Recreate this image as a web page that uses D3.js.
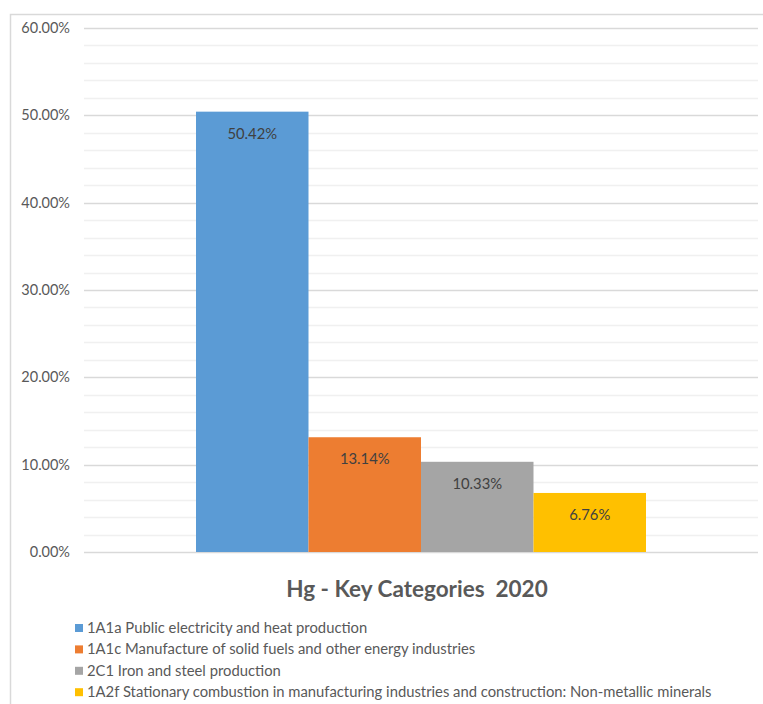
<!DOCTYPE html>
<html><head><meta charset="utf-8">
<script src="https://cdn.jsdelivr.net/npm/d3@7"></script>
<style>body{margin:0;background:#fff}svg{display:block}text{font-family:Lato,"Open Sans",sans-serif;white-space:pre}</style>
</head><body><svg id="c" width="763" height="704"></svg>
<script>
const categories = [
  "1A1a Public electricity and heat production",
  "1A1c Manufacture of solid fuels and other energy industries",
  "2C1 Iron and steel production",
  "1A2f Stationary combustion in manufacturing industries and construction: Non-metallic minerals"
];
const values = [50.42, 13.14, 10.33, 6.76];
const colors = ["#5B9BD5", "#ED7D31", "#A5A5A5", "#FFC000"];
const majorTicks = [0, 10, 20, 30, 40, 50, 60];
const minorTicks = d3.range(0, 61, 2);
const title = "Hg - Key Categories  2020";

const svg = d3.select("#c");
svg.append("path").attr("d", "M10.5,704 V14.5 H763").attr("fill", "none").attr("stroke", "#d9d9d9").attr("stroke-width", 1.5);

const x0 = 84, x1 = 758, yTop = 28, yBot = 552;
const y = d3.scaleLinear().domain([0, 60]).range([yBot, yTop]);

svg.append("g").selectAll("line").data(minorTicks.filter(d => d % 10 !== 0)).join("line")
  .attr("x1", x0).attr("x2", x1).attr("y1", d => Math.round(y(d)) + 0.5).attr("y2", d => Math.round(y(d)) + 0.5)
  .attr("stroke", "#f0f0f0").attr("stroke-width", 1.5);
svg.append("g").selectAll("line").data(majorTicks).join("line")
  .attr("x1", x0).attr("x2", x1).attr("y1", d => Math.round(y(d)) + 0.5).attr("y2", d => Math.round(y(d)) + 0.5)
  .attr("stroke", "#d9d9d9").attr("stroke-width", 1.5);

const yAxis = d3.axisLeft(y).tickValues(majorTicks).tickSize(0).tickPadding(0).tickFormat(d => d.toFixed(2) + "%");
const ga = svg.append("g").attr("transform", `translate(70,0)`).call(yAxis);
ga.select(".domain").remove();
ga.selectAll("text").attr("fill", "#595959").style("font-size", "14.5px").style("font-family", "Lato, sans-serif");

const xs = d3.scaleBand().domain(d3.range(values.length)).range([196, 646]);
const bars = svg.append("g");
bars.selectAll("rect").data(values).join("rect")
  .attr("x", (d, i) => xs(i)).attr("width", xs.bandwidth())
  .attr("y", d => y(d)).attr("height", d => yBot - y(d))
  .attr("fill", (d, i) => colors[i]);
bars.selectAll("text").data(values).join("text")
  .attr("x", (d, i) => xs(i) + xs.bandwidth() / 2).attr("y", d => y(d) + 27)
  .attr("text-anchor", "middle").attr("fill", "#404040").style("font-size", "14.8px")
  .text(d => d.toFixed(2) + "%");

svg.append("text").attr("x", 417).attr("y", 597).attr("text-anchor", "middle")
  .attr("fill", "#595959").style("font-size", "22.5px").style("font-weight", "bold").text(title);

const lg = svg.append("g");
const rows = lg.selectAll("g").data(categories).join("g")
  .attr("transform", (d, i) => `translate(75, ${628 + i * 21.4})`);
rows.append("rect").attr("x", 0).attr("y", -4).attr("width", 8).attr("height", 8).attr("fill", (d, i) => colors[i]);
rows.append("text").attr("x", 12).attr("y", 5).attr("fill", "#595959").style("font-size", "14.8px").text(d => d);
</script></body></html>
